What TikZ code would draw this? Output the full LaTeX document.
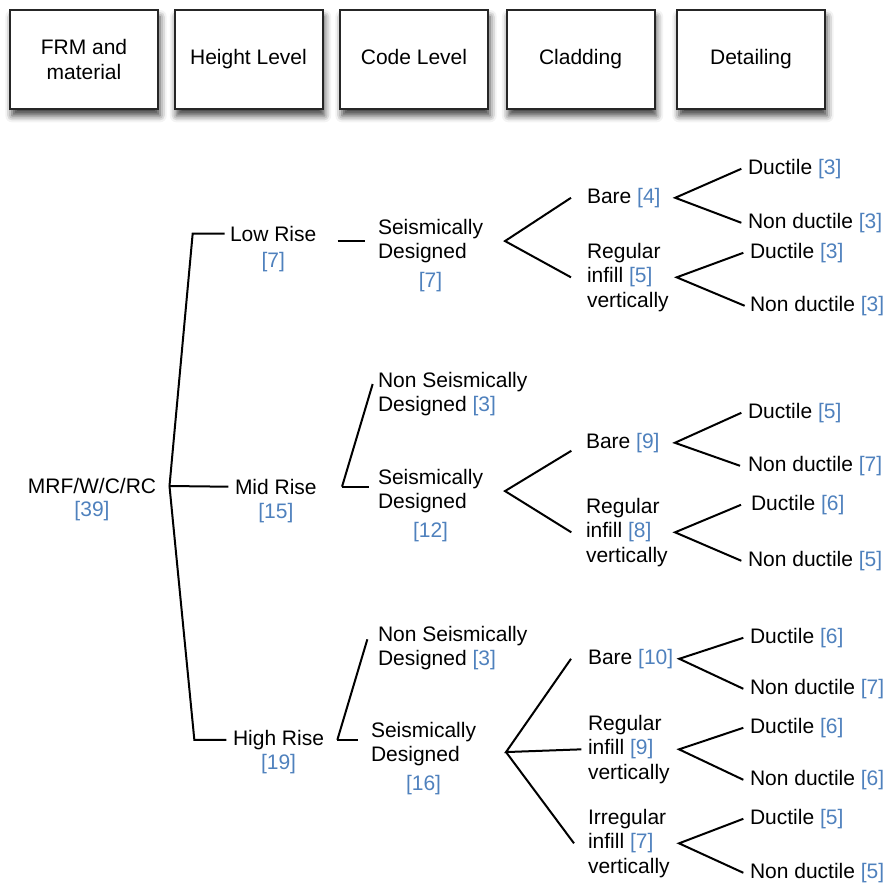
\documentclass[tikz,border=0pt]{standalone}
\usepackage{fontspec}
\setmainfont{Liberation Sans}
\usepackage{xcolor}
\usetikzlibrary{positioning,shadows.blur}

\definecolor{numblue}{RGB}{79,129,189}
\newcommand{\nm}[1]{\textcolor{numblue}{[#1]}}

\tikzset{
  head/.style={draw=black!85, line width=1.5pt, fill=white, align=center,
    minimum width=111pt, minimum height=74.25pt,
    blur shadow={shadow xshift=1.5pt, shadow yshift=-5pt, shadow blur radius=5pt, shadow opacity=75}},
  lbl/.style={inner sep=0pt, outer sep=0pt, align=left, anchor=north west},
  num/.style={inner sep=0pt, outer sep=0pt},
  branch/.style={line width=1.5pt},
}

\begin{document}
\begin{tikzpicture}[x=0.75pt, y=-0.75pt, font=\fontsize{15.75}{18.4}\selectfont]
\useasboundingbox (0,0) rectangle (887,882);

% header row
\node[head] (frm) at (84,59.5) {FRM and\\material};
\node[head] (height) at (248.5,59.5) {\strut Height Level};
\node[head] (code) at (414,59.5) {\strut Code Level};
\node[head] (clad) at (580.5,59.5) {\strut Cladding};
\node[head] (detail) at (751,59.5) {\strut Detailing};

% root
\node[num] (root) at (92,486) {MRF/W/C/RC};
\node[num, below=5.5pt of root] (rootn) {\nm{39}};

% height level
\node[lbl] (lowrise) at (230,226) {Low Rise};
\node[num, below=8pt of lowrise] (lowrisen) {\nm{7}};
\node[lbl] (midrise) at (235,479) {Mid Rise};
\node[num, below=6.5pt of midrise] (midrisen) {\nm{15}};
\node[lbl] (highrise) at (233,730) {High Rise};
\node[num, below=3.5pt of highrise] (highrisen) {\nm{19}};

% code level
\node[lbl] (lowsd) at (378,219) {Seismically\\Designed};
\node[num, below=7pt of lowsd] (lowsdn) {\nm{7}};
\node[lbl] (midnsd) at (378,372) {Non Seismically\\Designed \nm{3}};
\node[lbl] (midsd) at (378,469) {Seismically\\Designed};
\node[num, below=7pt of midsd] (midsdn) {\nm{12}};
\node[lbl] (highnsd) at (378,626) {Non Seismically\\Designed \nm{3}};
\node[lbl] (highsd) at (371,722) {Seismically\\Designed};
\node[num, below=7pt of highsd] (highsdn) {\nm{16}};

% cladding
\node[lbl] (lowbare) at (587,188) {Bare \nm{4}};
\node[lbl] (lowreg) at (587,243) {Regular\\infill \nm{5}\\vertically};
\node[lbl] (midbare) at (586,433) {Bare \nm{9}};
\node[lbl] (midreg) at (586,498) {Regular\\infill \nm{8}\\vertically};
\node[lbl] (highbare) at (588,649) {Bare \nm{10}};
\node[lbl] (highreg) at (588,715) {Regular\\infill \nm{9}\\vertically};
\node[lbl] (highirr) at (588,809) {Irregular\\infill \nm{7}\\vertically};

% detailing
\node[lbl] (lowbared) at (748,159) {Ductile \nm{3}};
\node[lbl] (lowbarend) at (748,213) {Non ductile \nm{3}};
\node[lbl] (lowregd) at (750,243) {Ductile \nm{3}};
\node[lbl] (lowregnd) at (750,296) {Non ductile \nm{3}};
\node[lbl] (midbared) at (748,403) {Ductile \nm{5}};
\node[lbl] (midbarend) at (748,456) {Non ductile \nm{7}};
\node[lbl] (midregd) at (751,495) {Ductile \nm{6}};
\node[lbl] (midregnd) at (748,551) {Non ductile \nm{5}};
\node[lbl] (highbared) at (750,628) {Ductile \nm{6}};
\node[lbl] (highbarend) at (750,679) {Non ductile \nm{7}};
\node[lbl] (highregd) at (750,718) {Ductile \nm{6}};
\node[lbl] (highregnd) at (750,770) {Non ductile \nm{6}};
\node[lbl] (highirrd) at (750,809) {Ductile \nm{5}};
\node[lbl] (highirrnd) at (750,863) {Non ductile \nm{5}};

% junctions
\coordinate (jroot) at ([xshift=10pt]root.east);
\coordinate (jmid) at ([xshift=19pt]midrise.east);
\coordinate (jhigh) at ([xshift=10pt]highrise.east);
\coordinate (jlowsd) at ([xshift=16.5pt]lowsd.east);
\coordinate (jmidsd) at ([xshift=16.5pt]midsd.east);
\coordinate (jhighsd) at ([xshift=22.5pt,yshift=-6pt]highsd.east);
\coordinate (jlowbare) at ([xshift=11pt]lowbare.east);
\coordinate (jlowreg) at ([xshift=6pt]lowreg.east);
\coordinate (jmidbare) at ([xshift=11.5pt]midbare.east);
\coordinate (jmidreg) at ([xshift=5.5pt]midreg.east);
\coordinate (jhighbare) at ([xshift=4.5pt]highbare.east);
\coordinate (jhighreg) at ([xshift=7pt]highreg.east);
\coordinate (jhighirr) at ([xshift=7pt]highirr.east);

% root to height levels
\draw[branch] (jroot) -- ([xshift=-28pt]lowrise.west) -- ([xshift=-4pt]lowrise.west);
\draw[branch] (jroot) -- ([xshift=-5pt]midrise.west);
\draw[branch] (jroot) -- ([xshift=-29pt]highrise.west) -- ([xshift=-5pt]highrise.west);

% height to code level
\draw[branch, shorten <=16pt] (lowrise.east |- lowsd.west) -- ([xshift=-10pt]lowsd.west);
\draw[branch] (jmid) -- ([xshift=-4pt,yshift=-9pt]midnsd.north west);
\draw[branch, shorten >=7pt] (jmid) -- (jmid -| midsd.west);
\draw[branch] (jhigh) -- ([xshift=-8pt,yshift=-10pt]highnsd.north west);
\draw[branch, shorten >=10pt] (jhigh) -- (jhigh -| highsd.west);

% code level to cladding
\draw[branch] ([xshift=-12pt]lowbare.west) -- (jlowsd) -- ([xshift=-12pt]lowreg.west);
\draw[branch] ([xshift=-11pt,yshift=-6pt]midbare.west) -- (jmidsd) -- ([xshift=-11pt]midreg.west);
\draw[branch] ([xshift=-12.75pt]highbare.west) -- (jhighsd) -- ([xshift=-5pt]highreg.west);
\draw[branch] (jhighsd) -- ([xshift=-10.5pt]highirr.west);

% cladding to detailing
\draw[branch] ([xshift=-5pt]lowbared.west) -- (jlowbare) -- ([xshift=-5pt]lowbarend.west);
\draw[branch] ([xshift=-5pt]lowregd.west) -- (jlowreg) -- ([xshift=-4pt]lowregnd.west);
\draw[branch] ([xshift=-5pt]midbared.west) -- (jmidbare) -- ([xshift=-6pt]midbarend.west);
\draw[branch] ([xshift=-7.5pt]midregd.west) -- (jmidreg) -- ([xshift=-5pt]midregnd.west);
\draw[branch] ([xshift=-5pt]highbared.west) -- (jhighbare) -- ([xshift=-5pt]highbarend.west);
\draw[branch] ([xshift=-5pt]highregd.west) -- (jhighreg) -- ([xshift=-5pt]highregnd.west);
\draw[branch] ([xshift=-5pt]highirrd.west) -- (jhighirr) -- ([xshift=-5pt]highirrnd.west);

\end{tikzpicture}
\end{document}
